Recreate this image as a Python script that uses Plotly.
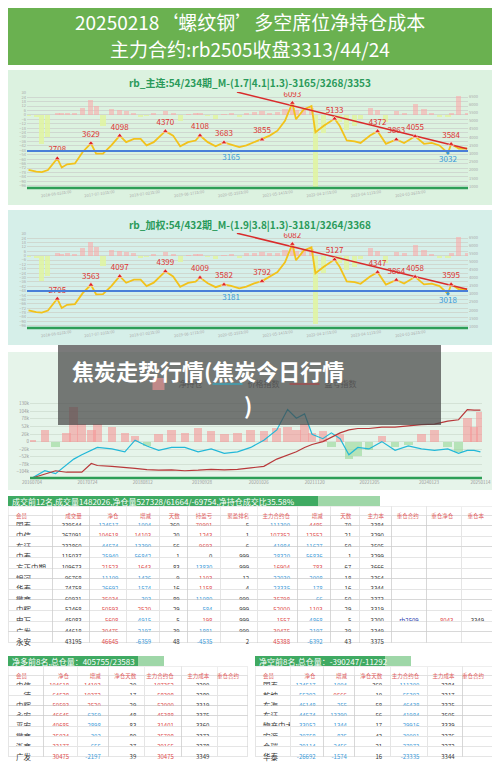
import plotly.graph_objects as go

FONT = "Noto Sans CJK SC"
RED = "#e04848"
BLUE = "#3a9ad9"

# ---- chart 1 / chart 2 data (rb main / weighted) ----
dates = ["2015-09-01", "2015-11-01", "2015-12-15", "2016-02-01", "2016-04-15", "2016-05-20", "2016-07-01",
         "2016-09-01", "2016-11-01", "2017-01-05", "2017-02-15", "2017-04-10", "2017-06-15", "2017-08-20",
         "2017-10-10", "2017-12-10", "2018-02-01", "2018-03-20", "2018-05-15", "2018-08-15", "2018-10-15",
         "2018-12-10", "2019-02-10", "2019-04-10", "2019-05-15", "2019-07-15", "2019-09-15", "2019-11-20",
         "2020-01-15", "2020-03-20", "2020-05-15", "2020-07-15", "2020-09-15", "2020-11-15", "2021-01-15",
         "2021-03-15", "2021-05-12", "2021-06-10", "2021-08-10", "2021-10-10", "2021-11-10", "2022-01-15",
         "2022-04-10", "2022-05-20", "2022-07-15", "2022-09-15", "2022-11-01", "2023-01-15", "2023-03-15",
         "2023-05-20", "2023-08-10", "2023-10-10", "2024-01-05", "2024-03-15", "2024-05-15", "2024-07-15",
         "2024-09-20", "2024-10-15", "2024-12-15", "2025-02-18"]
price_main = [2010, 1900, 1870, 2000, 2708, 2150, 2350, 2400, 3100, 3629, 3000, 3000, 3500, 4098,
              3700, 3900, 3900, 3500, 3700, 4370, 4100, 3450, 3700, 3800, 4108, 3700, 3450, 3683,
              3550, 3400, 3500, 3700, 3855, 4100, 4400, 5000, 6093, 5100, 5700, 5900, 4300, 4700,
              5133, 4700, 3800, 3750, 3650, 4100, 4372, 3600, 3863, 3650, 4055, 3600, 3650, 3500,
              3032, 3584, 3300, 3313]
price_wtd = [1990, 1880, 1850, 1980, 2705, 2130, 2330, 2380, 3050, 3563, 2980, 2990, 3480, 4097,
             3690, 3890, 3890, 3490, 3700, 4399, 4080, 3440, 3680, 3760, 4009, 3660, 3420, 3582,
             3500, 3350, 3450, 3650, 3792, 4050, 4350, 4950, 6082, 5080, 5680, 5880, 4280, 4680,
             5127, 4680, 3780, 3730, 3630, 4080, 4347, 3580, 3864, 3640, 4058, 3590, 3640, 3490,
             3018, 3595, 3290, 3300]
osc_main = [-2, -3, -40, -30, 3, 2, 3, 2, 10, 20, 12, -15, 8, 6, 5, 3, -3, -2, 2, 5, 2, -8, 1, 2, 2, -2,
            -5, 1, 2, -3, 3, 4, 5, 3, 4, 8, 10, 6, 8, 9, -99, -25, -4, -10, -20, -15, -5, 10, 6, -10,
            5, 3, 15, 8, 2, -3, -3, 3, 25, 3]
osc_wtd = [-2, -3, -35, -28, 3, 2, 3, 2, 10, 19, 12, -14, 8, 6, 5, 3, -3, -2, 2, 5, 2, -8, 1, 2, 2, -2,
           -5, 1, 2, -3, 3, 4, 5, 3, 4, 8, 10, 6, 8, 9, -94, -24, -4, -10, -19, -15, -5, 10, 6, -10,
           5, 3, 15, 8, 2, -3, -3, 3, 25, 3]
peaks_main = {"2016-04-15": 2708, "2017-01-05": 3629, "2017-08-20": 4098, "2018-08-15": 4370,
              "2019-05-15": 4108, "2019-11-20": 3683, "2020-09-15": 3855, "2021-05-12": 6093,
              "2022-04-10": 5133, "2023-03-15": 4372, "2023-08-10": 3863, "2024-01-05": 4055,
              "2024-10-15": 3584}
peaks_wtd = {"2016-04-15": 2705, "2017-01-05": 3563, "2017-08-20": 4097, "2018-08-15": 4399,
             "2019-05-15": 4009, "2019-11-20": 3582, "2020-09-15": 3792, "2021-05-12": 6082,
             "2022-04-10": 5127, "2023-03-15": 4347, "2023-08-10": 3864, "2024-01-05": 4058,
             "2024-10-15": 3595}
low_main = ("2024-09-20", 3032)
low_wtd = ("2024-09-20", 3018)
mean_main = ("2020-01-15", 3165)
mean_wtd = ("2020-01-15", 3181)
trend_x = ["2020-03-01", "2025-02-18"]
trend_main = [6762, 3300]
trend_wtd = [6750, 3290]
date_ticks = ["2015-09-28", "2016-08-03", "2017-07-10", "2018-07-02", "2019-06-17", "2020-05-29",
              "2021-05-14", "2022-04-27", "2023-04-11", "2024-03-26"]

# ---- chart 3 data ----
d3 = ["2016-07-04", "2016-10-01", "2016-12-15", "2017-03-01", "2017-04-20", "2017-06-15", "2017-08-20",
      "2017-10-01", "2018-01-10", "2018-04-10", "2018-06-20", "2018-09-10", "2018-12-01", "2019-03-01",
      "2019-06-01", "2019-09-01", "2019-12-01", "2020-03-01", "2020-06-01", "2020-09-01", "2020-12-01",
      "2021-03-01", "2021-05-15", "2021-07-15", "2021-09-10", "2021-11-01", "2022-01-15", "2022-03-15",
      "2022-05-15", "2022-07-15", "2022-09-15", "2022-12-01", "2023-03-01", "2023-06-01", "2023-09-01",
      "2023-12-01", "2024-03-01", "2024-06-01", "2024-08-15", "2024-10-15", "2024-12-01", "2025-01-14"]
net_pos = [5000, 40000, -20000, 30000, 120000, 60000, 40000, 60000, 50000, 30000, 20000, -15000,
           25000, 40000, 30000, 45000, 35000, 25000, 30000, 40000, 35000, 45000, 50000, 40000, 60000,
           30000, 35000, -20000, 25000, -60000, -50000, -30000, 20000, -20000, -10000, 25000, 40000,
           -20000, -35000, 80000, 50000, 100000]
price_idx = [-124840, -100000, -110000, -80000, -60000, -45000, -30000, -20000, -25000, -35000, 5000,
             -15000, -30000, -20000, -20000, -35000, -25000, -40000, -35000, -20000, 5000, 40000,
             110000, 80000, 95000, 25000, 10000, 30000, 10000, -45000, -20000, -25000, 0, -30000,
             -15000, -25000, -30000, -25000, -40000, -30000, -30000, -35000]
pnl_idx = [-124840, -110000, -100000, -105000, -106000, -105000, -75000, -82000, -85000, -88000,
           -92000, -96000, -98000, -97000, -100000, -98000, -95000, -97000, -95000, -90000, -85000,
           -60000, -45000, -35000, -20000, -10000, 0, 15000, 30000, 40000, 45000, 45000, 50000, 50000,
           55000, 58000, 60000, 70000, 75000, 110000, 108000, 108000]
d3_ticks = ["2016-07-04", "2017-07-24", "2018-08-12", "2019-09-28", "2020-10-26", "2021-11-20",
            "2022-12-05", "2024-01-23", "2025-01-14"]

# ---- tables ----
t1_cols = ["会员", "成交量", "净仓", "增减", "天数", "持盈亏", "累盈排名", "主力合约仓", "增减", "天数", "主力本", "重仓合约", "重仓净仓", "重仓本"]
t1_rows = [
    ["国泰", 339544, -124517, -1004, 360, 70901, 5, -111300, 4485, 70, 3384, "", "", ""],
    ["中信", 267091, 104618, 14103, 20, 1243, 1, 107352, 12552, 21, 3290, "", "", ""],
    ["东证", 232860, -44574, -13390, 56, 9693, 6, -41984, -11627, 50, 3505, "", "", ""],
    ["中泰", 115037, -25940, -56842, 1, 0, 999, -28320, -56836, 1, 3299, "", "", ""],
    ["方正中期", 109673, 21523, 1643, 83, -13830, 999, 16904, 783, 67, 3666, "", "", ""],
    ["银河", 96768, -11109, -1436, 9, 1103, 12, -22030, -2008, 18, 3364, "", "", ""],
    ["华泰", 74758, -26692, -1574, 16, 1158, 4, -23335, -178, 16, 3344, "", "", ""],
    ["徽商", 60931, 35034, -303, 89, -11080, 999, 35798, -66, 50, 3373, "", "", ""],
    ["中辉", 52468, 50593, 2520, 29, -584, 999, 52000, 1103, 29, 3319, "", "", ""],
    ["申万", 45083, 5608, -4915, 5, 198, 999, 1557, -4868, 5, 3200, "rb2509", 8043, 3349],
    ["广发", 44618, 30475, -2197, 39, -1881, 999, 30475, -2197, 39, 3349, "", "", ""],
    ["永安", 43195, 46645, -6359, 48, -4535, 2, 45388, -6392, 43, 3375, "", "", ""],
]
t1_title = "成交前12名,成交量1482026,净仓量527328/61664/-69754,净持仓成交比35.58%"
t2_cols = ["会员", "净仓", "增减", "净仓天数", "主力合约仓", "主力成本", "重仓合约"]
long_rows = [
    ["中信", 104618, 14103, 20, 107352, 3290, ""],
    ["一德", 64528, 19372, 17, 58398, 3289, ""],
    ["中辉", 50593, 2520, 29, 52000, 3319, ""],
    ["永安", 46645, -6359, 48, 45388, 3375, ""],
    ["平安", 40685, -2898, 83, 31401, 3360, ""],
    ["徽商", 35034, -303, 89, 35798, 3373, ""],
    ["浙商", 33177, -655, 37, 29165, 3278, ""],
    ["广发", 30475, -2197, 39, 30475, 3349, ""],
]
short_rows = [
    ["国泰", -124517, -1004, 360, -111300, 3384, ""],
    ["乾坤", -55392, 9566, 10, -55392, 3317, ""],
    ["东海", -46148, -255, 58, -46438, 3325, ""],
    ["东证", -44574, -13390, 56, -41984, 3505, ""],
    ["物产中大", -33052, -1344, 17, -29916, 3339, ""],
    ["宏源", -30758, -835, 43, -30091, 3376, ""],
    ["金瑞", -29114, -2456, 21, -27973, 3272, ""],
    ["华泰", -26692, -1574, 16, -23335, 3344, ""],
]
long_title = "净多前8名,总仓量：405755/23583"
short_title = "净空前8名,总仓量：-390247/-11292"

# page body has an 8px margin, so the figure is 484x756 and reference pixels are shifted by 8
OFF = 8
W, H = 484, 756


def clamp(v):
    return min(1.0, max(0.0, v))


def py(px):
    return 1 - (px - OFF) / H


def px_x(px):
    return (px - OFF) / W


def note(x, y, text, size, color, xanchor="center", bold=False):
    annos.append(dict(x=x, y=y, xref="paper", yref="paper", xanchor=xanchor, yanchor="middle", showarrow=False,
                      text="<b>%s</b>" % text if bold else text, font=dict(size=size, color=color, family=FONT)))


fig = go.Figure()
shapes = []
annos = []

# banner
shapes.append(dict(type="rect", xref="paper", yref="paper", x0=px_x(5), x1=px_x(495), y0=py(65), y1=py(5),
                   fillcolor="#6ab150", line=dict(width=0), layer="below"))
note(px_x(250), py(21), "20250218‘螺纹钢’多空席位净持仓成本", 19, "white")
note(px_x(250), py(48), "主力合约:rb2505收盘3313/44/24", 19, "white")

# panel backgrounds
for top, bot, col in [(70, 205, "#dcf2e0"), (210, 345, "#d6efe9"), (352, 490, "#e6f4ea")]:
    shapes.append(dict(type="rect", xref="paper", yref="paper", x0=px_x(5), x1=px_x(495), y0=py(bot), y1=py(top),
                       fillcolor=col, line=dict(width=0), layer="below"))


def price_chart(n, price, osc, peaks, low, mean, trend, title, ytop, ybot):
    xa = "x" if n == 1 else "x%d" % n
    ya = "y%d" % (2 * n - 1) if n > 1 else "y"
    yb = "y%d" % (2 * n)
    fig.add_trace(go.Bar(x=dates, y=osc, xaxis=xa, yaxis=ya, width=40 * 86400000,
                         marker=dict(color=["rgba(250,170,170,0.6)" if v >= 0 else "rgba(225,245,160,0.85)" for v in osc],
                                     line=dict(width=0)), showlegend=False))
    fig.add_trace(go.Scatter(x=dates, y=price, xaxis=xa, yaxis=yb, mode="lines",
                             line=dict(color="#f2c21b", width=1.8), showlegend=False))
    fig.add_trace(go.Scatter(x=trend_x, y=trend, xaxis=xa, yaxis=yb, mode="lines",
                             line=dict(color="#d92b2b", width=1.5), showlegend=False))
    fig.add_trace(go.Scatter(x=list(peaks.keys()), y=list(peaks.values()), xaxis=xa, yaxis=yb,
                             mode="markers+text", text=[str(v) for v in peaks.values()], textposition="top center",
                             textfont=dict(size=8, color="#d33", family=FONT),
                             marker=dict(symbol="triangle-up", size=5, color="#d22", line=dict(color="white", width=0.5)),
                             showlegend=False))
    fig.add_trace(go.Scatter(x=[low[0], mean[0]], y=[low[1], mean[1]], xaxis=xa, yaxis=yb,
                             mode="markers+text", text=[str(low[1]), str(mean[1])], textposition="bottom center",
                             textfont=dict(size=8, color=BLUE, family=FONT),
                             marker=dict(symbol="diamond", size=3, color=BLUE), showlegend=False))
    shapes.append(dict(type="line", xref=xa + " domain", yref=yb, x0=0, x1=1, y0=mean[1], y1=mean[1],
                       line=dict(color="#4a7fd8", width=2)))
    shapes.append(dict(type="line", xref=xa + " domain", yref="paper", x0=0, x1=1, y0=py(ybot), y1=py(ybot),
                       line=dict(color="#2e9e57", width=2.5)))
    note(px_x(250), py(ytop + 7), title, 10, "#2a9a5a", bold=True)
    dom_y = [py(ybot), py(ytop + 16)]
    fig.layout[xa.replace("x", "xaxis")] = dict(domain=[px_x(27), px_x(468)], anchor=ya, type="date",
                                               tickvals=date_ticks, ticktext=[d + "15:00" for d in date_ticks],
                                               tickangle=-8, tickfont=dict(size=4, color="#aaa"), showgrid=False,
                                               range=["2015-08-20", "2025-02-25"])
    fig.layout[ya.replace("y", "yaxis")] = dict(domain=dom_y, range=[-99, 31], anchor=xa, dtick=6,
                                                tickfont=dict(size=4, color="#aaa"), gridcolor="#cfd8d0", zeroline=False)
    fig.layout[yb.replace("y", "yaxis")] = dict(range=[901, 6762], overlaying=ya, side="right", anchor=xa,
                                                tickfont=dict(size=4, color="#aaa"), showgrid=False, nticks=14)


price_chart(1, price_main, osc_main, peaks_main, low_main, mean_main, trend_main,
            "rb_主连:54/234期_M-(1.7|4.1|1.3)-3165/3268/3353", 76, 188)
price_chart(2, price_wtd, osc_wtd, peaks_wtd, low_wtd, mean_wtd, trend_wtd,
            "rb_加权:54/432期_M-(1.9|3.8|1.3)-3181/3264/3368", 217, 328)

# chart 3
fig.add_trace(go.Bar(x=d3, y=net_pos, xaxis="x3", yaxis="y5", name="净持仓", width=60 * 86400000,
                     marker=dict(color=["rgba(245,150,150,0.6)" if v >= 0 else "rgba(150,215,150,0.6)" for v in net_pos],
                                 line=dict(width=0))))
fig.add_trace(go.Scatter(x=d3, y=price_idx, xaxis="x3", yaxis="y5", name="价格指数", mode="lines",
                         line=dict(color="#22b8d8", width=1.2)))
fig.add_trace(go.Scatter(x=d3, y=pnl_idx, xaxis="x3", yaxis="y5", name="盈亏指数", mode="lines",
                         line=dict(color="#b8383a", width=1.2)))
shapes.append(dict(type="line", xref="x3 domain", yref="paper", x0=0, x1=1, y0=py(478), y1=py(478),
                   line=dict(color="#2e9e57", width=2.5)))
fig.layout.xaxis3 = dict(domain=[px_x(30), px_x(482)], anchor="y5", type="date", tickvals=d3_ticks,
                         ticktext=[d.replace("-", "") for d in d3_ticks], tickfont=dict(size=4.5, color="#999"),
                         showgrid=False, range=["2016-06-20", "2025-01-25"])
fig.layout.yaxis5 = dict(domain=[py(478), py(402)], range=[-124840, 135873], anchor="x3", dtick=26000,
                         tickfont=dict(size=4.5, color="#999"), gridcolor="#d4e2d6", zeroline=False)

# overlay title box
shapes.append(dict(type="rect", xref="paper", yref="paper", x0=px_x(58), x1=px_x(441), y0=py(425), y1=py(345),
                   fillcolor="rgba(70,70,70,0.72)", line=dict(width=0), layer="above"))
note(px_x(70), py(370), "焦炭走势行情(焦炭今日行情", 22, "white", xanchor="left", bold=True)
note(px_x(248), py(404), ")", 22, "white", bold=True)


def col_colors(rows, signed):
    out = []
    for c in range(len(rows[0])):
        cc = []
        for r in rows:
            v = r[c]
            if c in signed and isinstance(v, (int, float)):
                cc.append(RED if v > 0 else (BLUE if v < 0 else "#333"))
            elif c == 11 and v:
                cc.append("#2233aa")
            else:
                cc.append("#333")
        out.append(cc)
    return out


def add_table(cols, rows, signed, x0, x1, top, bot, widths, title, tw, rh):
    fig.add_trace(go.Table(
        domain=dict(x=[clamp(px_x(x0)), clamp(px_x(x1))], y=[clamp(py(bot)), clamp(py(top))]),
        columnwidth=widths,
        header=dict(values=cols, fill_color="white", line=dict(color="#ddd", width=0.5), height=9,
                    align=["left"] + ["right"] * (len(cols) - 1),
                    font=dict(size=5.5, color="#e06060", family=FONT)),
        cells=dict(values=[[r[c] for r in rows] for c in range(len(cols))], height=rh,
                   fill_color="white", line=dict(color="#ccc", width=0.5),
                   align=["left"] + ["right"] * (len(cols) - 1),
                   font=dict(size=[7.5] + [6] * (len(cols) - 1), color=col_colors(rows, signed), family=FONT))))
    shapes.append(dict(type="rect", xref="paper", yref="paper", x0=px_x(x0), x1=px_x(x0 + tw), y0=py(top),
                       y1=py(top - 10), fillcolor="#3faa62", line=dict(width=0), layer="above"))
    shapes.append(dict(type="rect", xref="paper", yref="paper", x0=px_x(x0 + tw), x1=px_x(x0 + tw * 1.2), y0=py(top),
                       y1=py(top - 10), fillcolor="#9fd7a8", line=dict(width=0), layer="above"))
    note(px_x(x0 + 2), py(top - 5), title, 8, "white", xanchor="left")


add_table(t1_cols, t1_rows, {2, 3, 5, 7, 8, 12}, 8, 495, 506, 652,
          [44, 36, 36, 32, 28, 32, 36, 40, 32, 28, 32, 34, 34, 30], t1_title, 310, 10.6)
add_table(t2_cols, long_rows, {1, 2, 4}, 8, 247, 666, 772, [36, 34, 32, 36, 38, 36, 30], long_title, 130, 10.2)
add_table(t2_cols, short_rows, {1, 2, 4}, 255, 495, 666, 772, [36, 34, 32, 36, 38, 36, 30], short_title, 130, 10.2)

fig.update_layout(width=W, height=H, margin=dict(l=0, r=0, t=0, b=0, pad=0, autoexpand=False),
                  paper_bgcolor="white", autosize=False,
                  plot_bgcolor="rgba(0,0,0,0)", shapes=shapes, annotations=annos, bargap=0,
                  font=dict(family=FONT),
                  legend=dict(orientation="h", x=0.5, xanchor="center", y=py(384), yanchor="middle",
                              font=dict(size=8, color="#555"), bgcolor="rgba(0,0,0,0)"))
fig.write_html("out.html")
